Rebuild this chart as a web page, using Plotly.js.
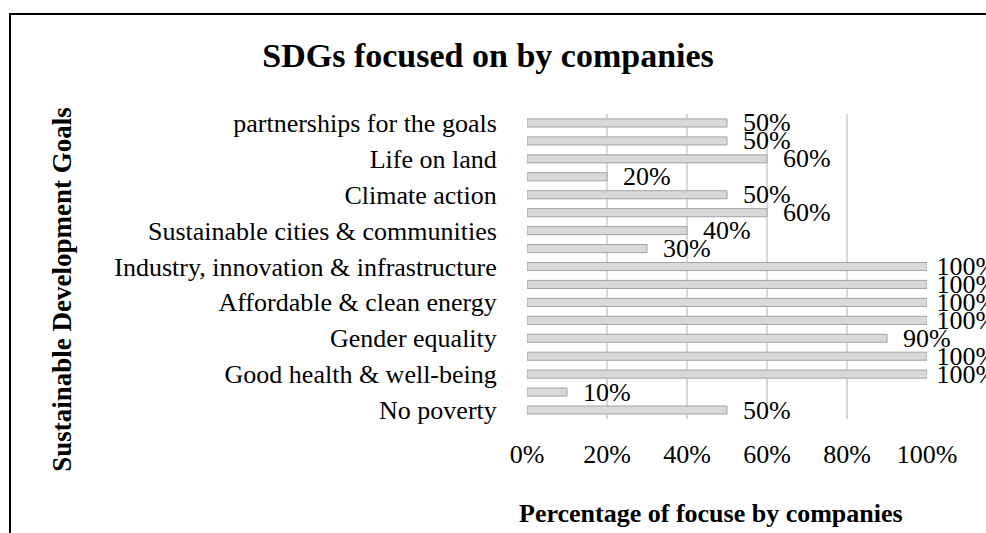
<!DOCTYPE html>
<html>
<head>
<meta charset="utf-8">
<script src="https://cdn.plot.ly/plotly-3.0.1.min.js"></script>
<style>
html,body{margin:0;padding:0;background:#fff;}
#wrap{position:relative;width:986px;height:533px;overflow:hidden;}
#chart{width:986px;height:533px;}
#frame{position:absolute;left:9px;top:13px;right:-5px;bottom:-5px;border-top:2px solid #000;border-left:2px solid #000;pointer-events:none;}
</style>
</head>
<body>
<div id="wrap"><div id="chart"></div><div id="frame"></div></div>
<script>
const goals = [
  "No poverty",
  "Zero hunger",
  "Good health & well-being",
  "Quality education",
  "Gender equality",
  "Clean water & sanitation",
  "Affordable & clean energy",
  "Decent work & economic growth",
  "Industry, innovation & infrastructure",
  "Reduced inequalities",
  "Sustainable cities & communities",
  "Responsible consumption & production",
  "Climate action",
  "Life below water",
  "Life on land",
  "Peace, justice & strong institutions",
  "partnerships for the goals"
];
const percentages = [50, 10, 100, 100, 90, 100, 100, 100, 100, 30, 40, 60, 50, 20, 60, 50, 50];
const shownLabels = [
  "No poverty",
  "Good health & well-being",
  "Gender equality",
  "Affordable & clean energy",
  "Industry, innovation & infrastructure",
  "Sustainable cities & communities",
  "Climate action",
  "Life on land",
  "partnerships for the goals"
];
const xTicks = [0, 20, 40, 60, 80, 100];
const xTickText = ["0%", "20%", "40%", "60%", "80%", "100%"];

const serif = "'Liberation Serif', 'Times New Roman', serif";
const FS = 26;

const trace = {
  type: 'bar',
  orientation: 'h',
  y: goals,
  x: percentages,
  width: 0.45,
  marker: {color: '#d9d9d9', line: {color: '#a3a3a3', width: 1}},
  text: percentages.map(v => (v >= 100 ? ' ' : '  ') + v + '%'),
  textposition: 'outside',
  constraintext: 'none',
  cliponaxis: false,
  textfont: {family: serif, size: FS, color: '#000'},
  outsidetextfont: {family: serif, size: FS, color: '#000'},
  hoverinfo: 'none'
};

const layout = {
  width: 986, height: 533,
  margin: {l: 527, r: 59, t: 114, b: 114},
  paper_bgcolor: '#fff', plot_bgcolor: '#fff',
  showlegend: false,
  font: {family: serif, color: '#000', size: FS},
  title: {text: '<b>SDGs focused on by companies</b>', x: 0.495, xref: 'container', xanchor: 'center',
          y: 0.897, yref: 'container', yanchor: 'middle',
          font: {family: serif, size: 34, color: '#000'}},
  xaxis: {
    range: [0, 100], tickvals: xTicks, ticktext: xTickText,
    showgrid: true, gridcolor: '#d9d9d9', gridwidth: 2, zeroline: false,
    showline: false, ticks: 'outside', ticklen: 12, tickcolor: 'rgba(0,0,0,0)',
    tickfont: {family: serif, size: FS, color: '#000'}, fixedrange: true
  },
  yaxis: {
    type: 'category', categoryorder: 'array', categoryarray: goals,
    tickvals: shownLabels, ticktext: shownLabels,
    showgrid: false, zeroline: false, showline: false,
    ticks: 'outside', ticklen: 24, tickcolor: 'rgba(0,0,0,0)',
    tickfont: {family: serif, size: FS, color: '#000'}, fixedrange: true
  },
  annotations: [
    {text: '<b>Percentage of focuse by companies</b>', xref: 'paper', yref: 'paper', x: 0.46, y: -0.31,
     xanchor: 'center', yanchor: 'middle', showarrow: false, font: {family: serif, size: FS, color: '#000'}},
    {text: '<b>Sustainable Development Goals</b>', xref: 'paper', yref: 'paper', x: -1.163, y: 0.426,
     xanchor: 'center', yanchor: 'middle', textangle: -90, showarrow: false, font: {family: serif, size: 27, color: '#000'}}
  ]
};

Plotly.newPlot('chart', [trace], layout, {displayModeBar: false, staticPlot: true});
</script>
</body>
</html>
